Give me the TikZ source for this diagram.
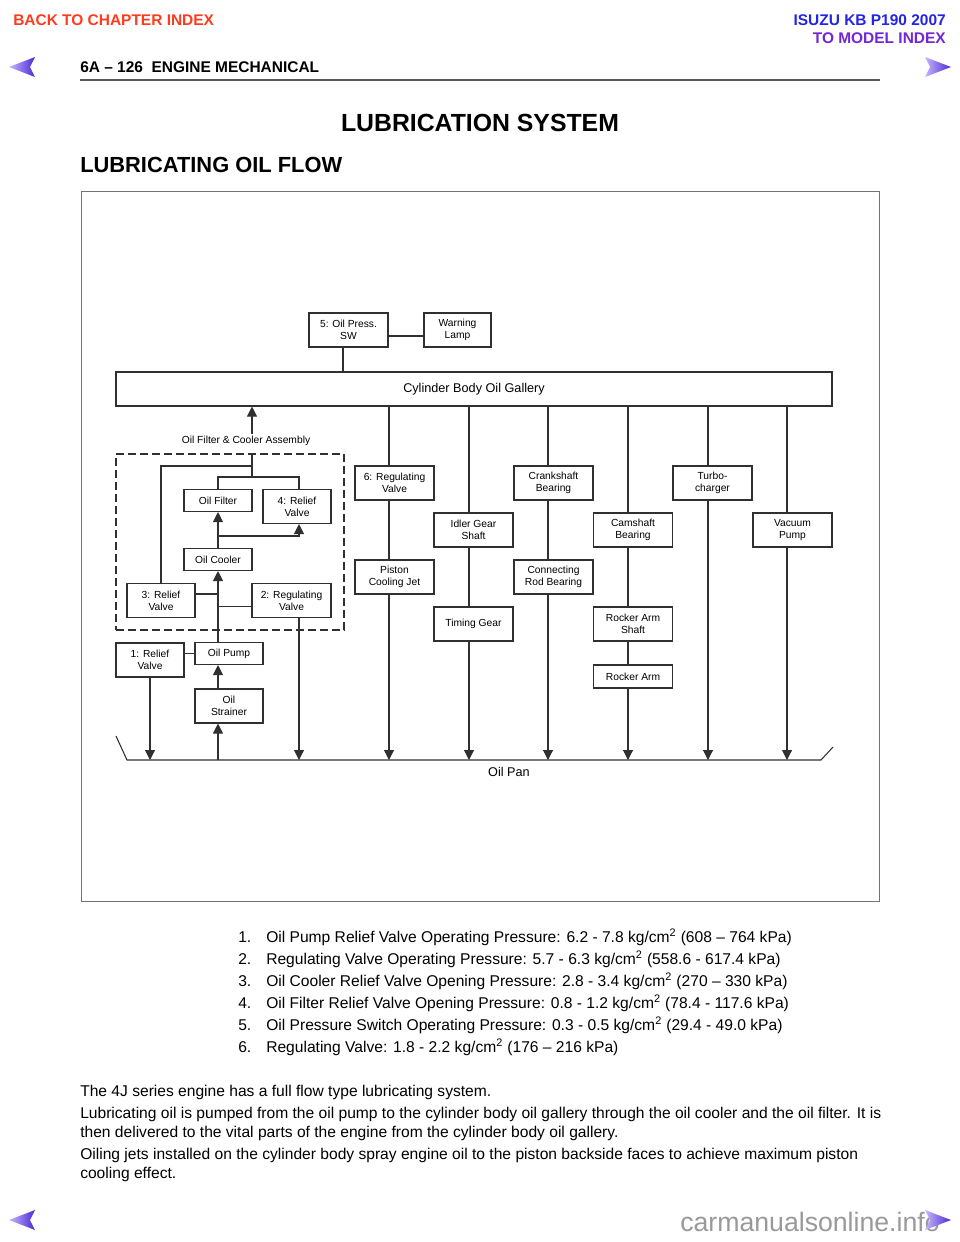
\documentclass[tikz,border=0pt]{standalone}
\usepackage{fontspec}
\setmainfont{Liberation Sans}
\usetikzlibrary{arrows.meta}

\definecolor{backred}{HTML}{FF3B1F}
\definecolor{isuzublue}{HTML}{2424E6}
\definecolor{modelpurple}{HTML}{7226D6}
\definecolor{linegray}{HTML}{303030}
\definecolor{navlight}{HTML}{C8B4FF}
\definecolor{navdark}{HTML}{4A2AD2}

\tikzset{
    part/.style={draw=linegray, line width=0.8pt, fill=white, inner sep=0pt, align=center,
        font=\fontsize{7.7}{9}\selectfont, minimum width=59.25pt, minimum height=25.5pt},
    slimbox/.style={minimum width=51pt},
    flatbox/.style={minimum height=16.5pt},
    flow/.style={-{Triangle[width=7.5pt,length=7.5pt]}},
    pipe/.style={draw=linegray, line width=0.8pt},
    navarrow/.style={left color=navlight, right color=navdark},
    headtext/.style={anchor=base west, inner sep=0pt, font=\bfseries\fontsize{11.6}{14}\selectfont},
    bodytext/.style={anchor=base west, inner sep=0pt, font=\fontsize{11.7}{14}\selectfont},
}

\begin{document}
\begin{tikzpicture}[x=0.75pt, y=-0.75pt]
    \useasboundingbox (0,0) rectangle (960,1242);

    \begin{scope} %page header
        \node (back) [headtext, text=backred] at (13,25.5) {BACK TO CHAPTER INDEX};
        \node (model) [headtext, anchor=base east, text=isuzublue] at (946,25.5) {ISUZU KB P190 2007};
        \node (index) [headtext, anchor=base east, text=modelpurple] at (946,43.5) {TO MODEL INDEX};
        \node (section) [headtext, text=black] at (80,72.5) {6A -- 126\ \ ENGINE MECHANICAL};
        \draw [line width=1.5pt, black!65] (80,80) -- (880,80);
        \shade [navarrow] (9,67) -- (35,57) -- (30,67) -- (35,77) -- cycle;
        \shade [navarrow] (951,67) -- (925,57) -- (930,67) -- (925,77) -- cycle;
        \node (title) [anchor=base, inner sep=0pt, font=\bfseries\fontsize{18.6}{22}\selectfont] at (480,131) {LUBRICATION SYSTEM};
        \node (subtitle) [anchor=base west, inner sep=0pt, font=\bfseries\fontsize{16.4}{20}\selectfont] at (80,172) {LUBRICATING OIL FLOW};
    \end{scope}

    \draw [black!55, line width=0.6pt] (81,191) rectangle (879,901);

    \begin{scope} %gallery and switch
        \node (gallery) [part, minimum width=537pt, font=\fontsize{9.5}{11}\selectfont] at (474,389) {Cylinder Body Oil Gallery};
        \node (sw) [part] at (348.5,330) {5: Oil Press.\\SW};
        \node (lamp) [part, minimum width=50.25pt] at (457.5,330) {Warning\\Lamp};
        \coordinate (swline) at (400,336);
        \coordinate (swdrop) at (343,360);
    \end{scope}

    \begin{scope} %oil filter and cooler assembly
        \node (asmbox) [draw=linegray, line width=0.8pt, dash pattern=on 6pt off 3pt, inner sep=0pt,
            minimum width=171pt, minimum height=132pt] at (230,542) {};
        \node (asm) [font=\fontsize{7.7}{9}\selectfont, inner sep=1.5pt] at (246,441) {Oil Filter \& Cooler Assembly};
        \node (filter) [part, slimbox, flatbox] at (218,500.5) {Oil Filter};
        \node (relief4) [part, slimbox] at (297,506.5) {4: Relief\\Valve};
        \node (cooler) [part, slimbox, flatbox] at (218,559.5) {Oil Cooler};
        \node (relief3) [part, slimbox] at (161,600.5) {3: Relief\\Valve};
        \node (reg2) [part] at (291.5,600.5) {2: Regulating\\Valve};
        \coordinate (asmx) at (252,454);
        \coordinate (split) at (252,466);
        \coordinate (fork) at (252,477);
        \coordinate (rv4) at (299,477);
        \coordinate (tee) at (218,536);
        \coordinate (tee3) at (218,594);
        \coordinate (tee2) at (218,606.5);
    \end{scope}

    \begin{scope} %pump and strainer
        \node (relief1) [part, slimbox] at (150,660) {1: Relief\\Valve};
        \node (pump) [part, slimbox, flatbox] at (229,653.5) {Oil Pump};
        \node (strainer) [part, slimbox] at (229,706) {Oil\\Strainer};
    \end{scope}

    \begin{scope} %engine parts
        \node (reg6) [part] at (394.5,483) {6: Regulating\\Valve};
        \node (piston) [part] at (394.5,577) {Piston\\Cooling Jet};
        \node (idler) [part] at (473.5,530) {Idler Gear\\Shaft};
        \node (timing) [part] at (473.5,624) {Timing Gear};
        \node (crank) [part] at (553.5,483) {Crankshaft\\Bearing};
        \node (conrod) [part] at (553.5,577) {Connecting\\Rod Bearing};
        \node (cam) [part] at (633,530) {Camshaft\\Bearing};
        \node (rockshaft) [part] at (633,624) {Rocker Arm\\Shaft};
        \node (rocker) [part, minimum height=17.25pt] at (633,676.5) {Rocker Arm};
        \node (turbo) [part] at (712.5,483) {Turbo-\\charger};
        \node (vacuum) [part] at (792.5,530) {Vacuum\\Pump};
    \end{scope}

    \begin{scope} %oil pan
        \draw [pipe] (116,736) -- (127,760) -- (821,760) -- (833,747);
        \node (pan) [font=\fontsize{9.5}{11}\selectfont] at (509,772) {Oil Pan};
        \coordinate (pr1) at (150,760);
        \coordinate (ps) at (218,760);
        \coordinate (pr2) at (299,760);
        \coordinate (pc1) at (389,760);
        \coordinate (pc2) at (469,760);
        \coordinate (pc3) at (548,760);
        \coordinate (pc4) at (628,760);
        \coordinate (pc5) at (708,760);
        \coordinate (pc6) at (787,760);
    \end{scope}

    \begin{scope}[every edge/.style={draw=linegray, line width=0.8pt}]
        \path [-] (sw.east |- swline) edge (lamp.west |- swline);
        \path [-] (sw.south -| swdrop) edge (gallery.north -| swdrop);
        \path [flow] (asm.north -| asmx) edge (gallery.south -| asmx);

        \path [-] (asmbox.north -| split) edge (fork);
        \draw [pipe] (split) -| (relief3.north);
        \draw [pipe] (filter.north) |- (rv4) -- (relief4.north -| rv4);
        \path [flow] (cooler.north) edge (filter.south);
        \draw [pipe, flow] (tee) -| (relief4.south -| rv4);
        \path [flow] (pump.north -| tee) edge (cooler.south);
        \path [-] (tee3) edge (tee3 -| relief3.east);
        \path [-] (tee2) edge (tee2 -| reg2.west);
        \path [flow] (reg2.south -| pr2) edge (pr2);

        \path [-] (relief1.east |- pump.west) edge (pump.west);
        \path [flow] (relief1.south) edge (pr1);
        \path [flow] (strainer.north -| ps) edge (pump.south -| ps);
        \path [flow] (ps) edge (strainer.south -| ps);

        \foreach \top/\col in {reg6/pc1, idler/pc2, crank/pc3, cam/pc4, turbo/pc5, vacuum/pc6}
            \path [-] (gallery.south -| \col) edge (\top.north -| \col);
        \foreach \up/\down/\col in {reg6/piston/pc1, idler/timing/pc2, crank/conrod/pc3, cam/rockshaft/pc4, rockshaft/rocker/pc4}
            \path [-] (\up.south -| \col) edge (\down.north -| \col);
        \foreach \last/\col in {piston/pc1, timing/pc2, conrod/pc3, rocker/pc4, turbo/pc5, vacuum/pc6}
            \path [flow] (\last.south -| \col) edge (\col);
    \end{scope}

    \begin{scope} %pressure list
        \node (n1) [bodytext] at (238,942.5) {1.};
        \node (n2) [bodytext] at (238,964.5) {2.};
        \node (n3) [bodytext] at (238,986.5) {3.};
        \node (n4) [bodytext] at (238,1008.5) {4.};
        \node (n5) [bodytext] at (238,1030.5) {5.};
        \node (n6) [bodytext] at (238,1052.5) {6.};
        \node (t1) [bodytext] at (266,942.5) {Oil Pump Relief Valve Operating Pressure: 6.2 - 7.8 kg/cm\textsuperscript{2} (608 -- 764 kPa)};
        \node (t2) [bodytext] at (266,964.5) {Regulating Valve Operating Pressure: 5.7 - 6.3 kg/cm\textsuperscript{2} (558.6 - 617.4 kPa)};
        \node (t3) [bodytext] at (266,986.5) {Oil Cooler Relief Valve Opening Pressure: 2.8 - 3.4 kg/cm\textsuperscript{2} (270 -- 330 kPa)};
        \node (t4) [bodytext] at (266,1008.5) {Oil Filter Relief Valve Opening Pressure: 0.8 - 1.2 kg/cm\textsuperscript{2} (78.4 - 117.6 kPa)};
        \node (t5) [bodytext] at (266,1030.5) {Oil Pressure Switch Operating Pressure: 0.3 - 0.5 kg/cm\textsuperscript{2} (29.4 - 49.0 kPa)};
        \node (t6) [bodytext] at (266,1052.5) {Regulating Valve: 1.8 - 2.2 kg/cm\textsuperscript{2} (176 -- 216 kPa)};
    \end{scope}

    \begin{scope} %description
        \node (p1) [bodytext] at (80,1096.5) {The 4J series engine has a full flow type lubricating system.};
        \node (p2) [bodytext] at (80,1118.5) {Lubricating oil is pumped from the oil pump to the cylinder body oil gallery through the oil cooler and the oil filter. It is};
        \node (p3) [bodytext] at (80,1137.5) {then delivered to the vital parts of the engine from the cylinder body oil gallery.};
        \node (p4) [bodytext] at (80,1159.5) {Oiling jets installed on the cylinder body spray engine oil to the piston backside faces to achieve maximum piston};
        \node (p5) [bodytext] at (80,1178.5) {cooling effect.};
    \end{scope}

    \begin{scope} %page footer
        \node (site) [anchor=base west, inner sep=0pt, text=black!40, font=\fontsize{20}{24}\selectfont] at (680,1231) {carmanualsonline.info};
        \shade [navarrow] (9,1220) -- (35,1210) -- (30,1220) -- (35,1230) -- cycle;
        \shade [navarrow] (951,1220) -- (925,1210) -- (930,1220) -- (925,1230) -- cycle;
    \end{scope}

\end{tikzpicture}
\end{document}
